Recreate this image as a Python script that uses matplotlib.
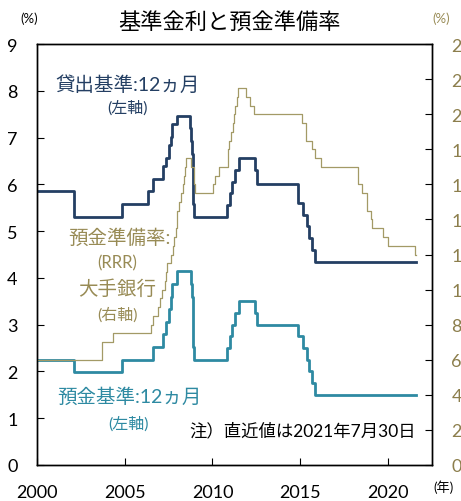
import pandas as pd
import matplotlib.pyplot as plt

plt.rcParams['font.family'] = ['Lato', 'Noto Sans CJK JP', 'DejaVu Sans']

# 貸出基準金利 (1年, %)
lend_dates = ["2000-01-01", "2002-02-21", "2004-10-29", "2006-04-28", "2006-08-19",
              "2007-03-18", "2007-05-19", "2007-07-21", "2007-08-22", "2007-09-15",
              "2007-12-21", "2008-09-16", "2008-10-09", "2008-10-30", "2008-11-27",
              "2008-12-23", "2010-10-20", "2010-12-26", "2011-02-09", "2011-04-06",
              "2011-07-07", "2012-06-08", "2012-07-06", "2014-11-22", "2015-03-01",
              "2015-05-11", "2015-06-28", "2015-08-26", "2015-10-24", "2021-07-30"]
lend_rate = [5.85, 5.31, 5.58, 5.85, 6.12, 6.39, 6.57, 6.84, 7.02, 7.29,
             7.47, 7.20, 6.93, 6.66, 5.58, 5.31, 5.56, 5.81, 6.06, 6.31,
             6.56, 6.31, 6.00, 5.60, 5.35, 5.10, 4.85, 4.60, 4.35, 4.35]

# 預金基準金利 (1年, %)
dep_dates = ["2000-01-01", "2002-02-21", "2004-10-29", "2006-08-19", "2007-03-18",
             "2007-05-19", "2007-07-21", "2007-08-22", "2007-09-15", "2007-12-21",
             "2008-10-09", "2008-10-30", "2008-11-27", "2008-12-23", "2010-10-20",
             "2010-12-26", "2011-02-09", "2011-04-06", "2011-07-07", "2012-06-08",
             "2012-07-06", "2014-11-22", "2015-03-01", "2015-05-11", "2015-06-28",
             "2015-08-26", "2015-10-24", "2021-07-30"]
dep_rate = [2.25, 1.98, 2.25, 2.52, 2.79, 3.06, 3.33, 3.60, 3.87, 4.14,
            3.87, 3.60, 2.52, 2.25, 2.50, 2.75, 3.00, 3.25, 3.50, 3.25,
            3.00, 2.75, 2.50, 2.25, 2.00, 1.75, 1.50, 1.50]

# 預金準備率 大手銀行 (%)
rrr_dates = ["2000-01-01", "2003-09-21", "2004-04-25", "2006-07-05", "2006-08-15",
             "2006-11-15", "2007-01-15", "2007-02-25", "2007-04-16", "2007-05-15",
             "2007-06-05", "2007-08-15", "2007-09-25", "2007-10-25", "2007-11-26",
             "2007-12-25", "2008-01-25", "2008-03-25", "2008-04-25", "2008-05-20",
             "2008-06-15", "2008-06-25", "2008-10-15", "2008-12-05", "2008-12-25",
             "2010-01-18", "2010-02-25", "2010-05-10", "2010-11-16", "2010-11-29",
             "2010-12-20", "2011-01-20", "2011-02-24", "2011-03-25", "2011-04-21",
             "2011-05-18", "2011-06-20", "2011-12-05", "2012-02-24", "2012-05-18",
             "2015-02-05", "2015-04-20", "2015-09-06", "2015-10-24", "2016-03-01",
             "2018-04-25", "2018-07-05", "2018-10-15", "2019-01-15", "2019-01-25",
             "2019-09-16", "2020-01-06", "2021-07-15", "2021-07-30"]
rrr = [6, 7, 7.5, 8, 8.5, 9, 9.5, 10, 10.5, 11,
       11.5, 12, 12.5, 13, 13.5, 14.5, 15, 15.5, 16, 16.5,
       17, 17.5, 17, 16, 15.5, 16, 16.5, 17, 17.5, 18,
       18.5, 19, 19.5, 20, 20.5, 21, 21.5, 21, 20.5, 20,
       19.5, 18.5, 18, 17.5, 17, 16, 15.5, 14.5, 14, 13.5,
       13, 12.5, 12, 12]

x_ticks = [2000, 2005, 2010, 2015, 2020]


def to_year(dates):
    d = pd.to_datetime(pd.Series(dates))
    days = d.dt.is_leap_year.map({True: 366, False: 365})
    return d.dt.year + (d.dt.dayofyear - 1) / days


navy = '#243f63'
teal = '#2e8aa2'
olive = '#a39a66'
olive_txt = '#988b55'

fig = plt.figure(figsize=(4.61, 5.02), dpi=100)
ax = fig.add_axes([0.080, 0.072, 0.857, 0.838])
ax2 = ax.twinx()

ax2.step(to_year(rrr_dates), rrr, where='post', color=olive, lw=0.9)
ax.step(to_year(lend_dates), lend_rate, where='post', color=navy, lw=2.0)
ax.step(to_year(dep_dates), dep_rate, where='post', color=teal, lw=2.0)

ax.set_xlim(2000, 2022.5)
ax.set_ylim(0, 9)
ax2.set_ylim(0, 24)
ax.set_xticks(x_ticks)
ax.set_yticks(range(0, 10))
ax2.set_yticks(range(0, 25, 2))

ax.tick_params(axis='both', direction='in', length=5, width=0.8, labelsize=13)
ax.tick_params(axis='y', pad=14)
ax.tick_params(axis='x', pad=14)
# 右軸の目盛ラベルは元図と同じく右端で切れる
ax2.tick_params(axis='y', direction='in', length=5, width=0.8, labelsize=13,
                labelcolor='#8c7e4c', pad=14)
for sp in list(ax.spines.values()) + list(ax2.spines.values()):
    sp.set_linewidth(1.0)
    sp.set_color('black')

fig.text(0.497, 0.955, '基準金利と預金準備率', ha='center', va='center', fontsize=16)
fig.text(0.063, 0.962, '(%)', ha='center', va='center', fontsize=9.5)
fig.text(0.958, 0.962, '(%)', ha='center', va='center', fontsize=9.5, color=olive_txt)
fig.text(0.962, 0.030, '(年)', ha='center', va='center', fontsize=9.5)

fig.text(0.277, 0.831, '貸出基準:12ヵ月', ha='center', va='center', fontsize=14, color=navy)
fig.text(0.277, 0.785, '(左軸)', ha='center', va='center', fontsize=11.5, color=navy)

fig.text(0.370, 0.526, '預金準備率:', ha='right', va='center', fontsize=14, color=olive_txt)
fig.text(0.254, 0.476, '(RRR)', ha='center', va='center', fontsize=12, color=olive_txt)
fig.text(0.254, 0.426, '大手銀行', ha='center', va='center', fontsize=14, color=olive_txt)
fig.text(0.254, 0.373, '(右軸)', ha='center', va='center', fontsize=11.5, color=olive_txt)

fig.text(0.280, 0.209, '預金基準:12ヵ月', ha='center', va='center', fontsize=14, color=teal)
fig.text(0.278, 0.155, '(左軸)', ha='center', va='center', fontsize=11.5, color=teal)

fig.text(0.902, 0.141, '注）直近値は2021年7月30日', ha='right', va='center', fontsize=12.5)

fig.savefig('out.png', dpi=100)
